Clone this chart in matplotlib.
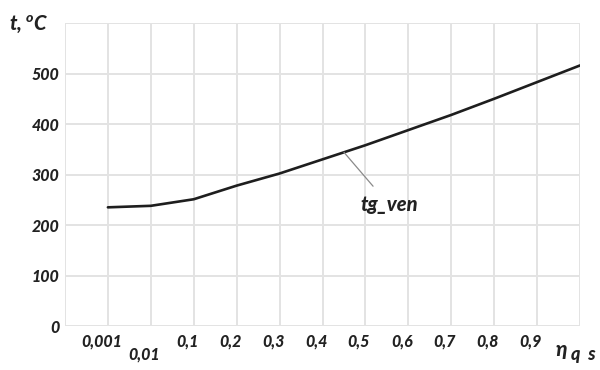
import matplotlib
matplotlib.use("Agg")
import matplotlib.pyplot as plt

# Category labels along the horizontal axis (efficiency values)
eta_labels = ["0,001", "0,01", "0,1", "0,2", "0,3", "0,4", "0,5",
              "0,6", "0,7", "0,8", "0,9"]
# Temperature of the gas (°C) at each category position, plus the end point
t_values = [235, 238, 251, 278, 302, 330, 358, 388, 418, 450, 483, 516]
y_ticks = [0, 100, 200, 300, 400, 500]

FONT = "Lato"
plt.rcParams["font.family"] = [FONT, "DejaVu Sans"]
plt.rcParams["mathtext.fontset"] = "custom"
plt.rcParams["mathtext.it"] = FONT + ":black:italic"
plt.rcParams["mathtext.rm"] = FONT + ":black:italic"

fig = plt.figure(figsize=(6.0, 3.7), dpi=100)
ax = fig.add_axes([0.1083, 0.1189, 0.9667 - 0.1083, 0.9378 - 0.1189])

grid_c = "#e3e3e3"
n_cols = len(eta_labels) + 1
ax.set_xlim(0, n_cols)
ax.set_ylim(0, 600)

# grid lines
for i in range(n_cols + 1):
    ax.axvline(i, color=grid_c, lw=1.4, zorder=0)
for v in range(0, 700, 100):
    ax.axhline(v, color=grid_c, lw=1.4, zorder=0)
for s in ax.spines.values():
    s.set_visible(False)

xs = list(range(1, len(t_values) + 1))
ax.plot(xs, t_values, color="#1e1e1e", lw=1.9, solid_capstyle="round",
        solid_joinstyle="round", zorder=3)

TXT = dict(fontweight="black", fontstyle="italic", color="#222222")

ax.set_xticks([])
ax.set_yticks(y_ticks)
ax.set_yticklabels([str(v) for v in y_ticks], fontsize=11.5, **TXT)
ax.tick_params(axis="y", length=0, pad=4)

# category labels, the second one dropped a row lower
for i, lab in enumerate(eta_labels, start=1):
    dy = -0.068 if i == 2 else -0.025
    ax.text(i - 0.15, dy, lab, transform=ax.get_xaxis_transform(),
            ha="center", va="top", fontsize=11.5, **TXT)

# axis captions
fig.text(0.015, 0.905, r"t, $^{o}$C", fontsize=14.5, ha="left",
         va="bottom", **TXT)
fig.text(0.926, 0.03, "η", fontsize=15, ha="left", va="bottom", **TXT)
fig.text(0.952, 0.02, "q  s", fontsize=13, ha="left", va="bottom", **TXT)

# series label with leader line
k = 6
ax.annotate("tg_ven", xy=(k + 0.5, (t_values[k - 1] + t_values[k]) / 2),
            xytext=(k + 1.55, 240), ha="center", va="center",
            fontsize=14.5, **TXT,
            arrowprops=dict(arrowstyle="-", color="#8a8a8a", lw=0.9,
                            shrinkA=6, shrinkB=0))

fig.savefig("out.png", dpi=100)
